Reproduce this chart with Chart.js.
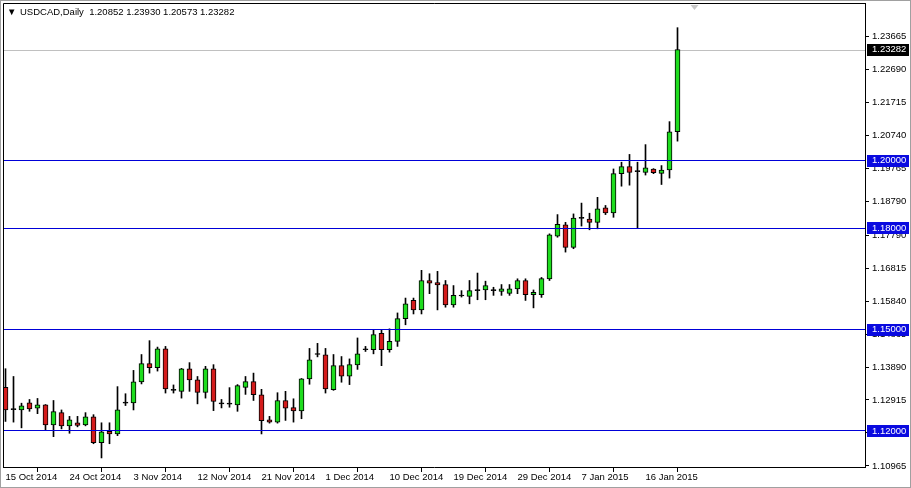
<!DOCTYPE html>
<html><head><meta charset="utf-8">
<script src="https://cdn.jsdelivr.net/npm/chart.js@4.4.0/dist/chart.umd.min.js"></script>
<style>html,body{margin:0;padding:0;background:#fff;overflow:hidden}canvas{display:block}</style>
</head><body>
<canvas id="c" width="911" height="488"></canvas>
<script>
// ---------------- data ----------------
const symbol = 'USDCAD';
const timeframe = 'Daily';
const dates = [
 '15 Oct 2014','16 Oct 2014','17 Oct 2014','19 Oct 2014','20 Oct 2014','21 Oct 2014','22 Oct 2014','23 Oct 2014','24 Oct 2014','26 Oct 2014',
 '27 Oct 2014','28 Oct 2014','29 Oct 2014','30 Oct 2014','31 Oct 2014','2 Nov 2014','3 Nov 2014','4 Nov 2014','5 Nov 2014','6 Nov 2014',
 '7 Nov 2014','9 Nov 2014','10 Nov 2014','11 Nov 2014','12 Nov 2014','13 Nov 2014','14 Nov 2014','16 Nov 2014','17 Nov 2014','18 Nov 2014',
 '19 Nov 2014','20 Nov 2014','21 Nov 2014','23 Nov 2014','24 Nov 2014','25 Nov 2014','26 Nov 2014','27 Nov 2014','28 Nov 2014','30 Nov 2014',
 '1 Dec 2014','2 Dec 2014','3 Dec 2014','4 Dec 2014','5 Dec 2014','7 Dec 2014','8 Dec 2014','9 Dec 2014','10 Dec 2014','11 Dec 2014',
 '12 Dec 2014','14 Dec 2014','15 Dec 2014','16 Dec 2014','17 Dec 2014','18 Dec 2014','19 Dec 2014','21 Dec 2014','22 Dec 2014','23 Dec 2014',
 '24 Dec 2014','25 Dec 2014','26 Dec 2014','28 Dec 2014','29 Dec 2014','30 Dec 2014','31 Dec 2014','1 Jan 2015','2 Jan 2015','4 Jan 2015',
 '5 Jan 2015','6 Jan 2015','7 Jan 2015','8 Jan 2015','9 Jan 2015','11 Jan 2015','12 Jan 2015','13 Jan 2015','14 Jan 2015','15 Jan 2015',
 '16 Jan 2015','18 Jan 2015','19 Jan 2015','20 Jan 2015','21 Jan 2015'
];
const open = [
 1.1329,1.1263,1.1262,1.1283,1.1267,1.1277,1.1218,1.1254,1.1215,1.1224,
 1.1218,1.1242,1.1165,1.1199,1.1191,1.1282,1.1283,1.1345,1.1399,1.1387,
 1.1443,1.1320,1.1317,1.1384,1.1351,1.1314,1.1384,1.1280,1.1279,1.1277,
 1.1329,1.1346,1.1307,1.1233,1.1226,1.1290,1.1269,1.1259,1.1354,1.1426,
 1.1425,1.1322,1.1393,1.1362,1.1395,1.1440,1.1440,1.1489,1.1440,1.1465,
 1.1532,1.1586,1.1558,1.1645,1.1639,1.1633,1.1573,1.1599,1.1598,1.1615,
 1.1617,1.1615,1.1613,1.1607,1.1620,1.1645,1.1603,1.1603,1.1650,1.1776,
 1.1810,1.1743,1.1829,1.1827,1.1817,1.1860,1.1845,1.1961,1.1982,1.1967,
 1.1965,1.1975,1.1962,1.1972,1.20852
];
const high = [
 1.1384,1.1361,1.1282,1.1293,1.1296,1.1278,1.1290,1.1262,1.1243,1.1243,
 1.1254,1.1248,1.1224,1.1224,1.1331,1.1310,1.1379,1.1426,1.1467,1.1448,
 1.1450,1.1336,1.1385,1.1402,1.1361,1.1391,1.1396,1.1293,1.1328,1.1337,
 1.1361,1.1371,1.1323,1.1243,1.1313,1.1317,1.1295,1.1355,1.1444,1.1459,
 1.1444,1.1426,1.1420,1.1413,1.1475,1.1450,1.1499,1.1499,1.1502,1.1549,
 1.1593,1.1593,1.1675,1.1665,1.1672,1.1645,1.1630,1.1615,1.1645,1.1667,
 1.1643,1.1625,1.1633,1.1633,1.1650,1.1650,1.1617,1.1654,1.1783,1.1840,
 1.1817,1.1842,1.1874,1.1844,1.1891,1.1867,1.1975,1.1995,1.2018,1.1995,
 1.2047,1.1976,1.1985,1.2115,1.23930
];
const low = [
 1.1228,1.1226,1.1209,1.1258,1.1251,1.1201,1.1183,1.1206,1.1193,1.1212,
 1.1215,1.1162,1.1120,1.1162,1.1186,1.1275,1.1262,1.1339,1.1371,1.1377,
 1.1312,1.1312,1.1297,1.1317,1.1280,1.1297,1.1260,1.1268,1.1270,1.1258,
 1.1308,1.1290,1.1191,1.1223,1.1223,1.1231,1.1226,1.1236,1.1338,1.1419,
 1.1312,1.1320,1.1344,1.1337,1.1382,1.1435,1.1428,1.1393,1.1433,1.1450,
 1.1514,1.1546,1.1546,1.1606,1.1558,1.1566,1.1566,1.1596,1.1576,1.1588,
 1.1588,1.1601,1.1601,1.1601,1.1606,1.1586,1.1564,1.1595,1.1645,1.1773,
 1.1729,1.1739,1.1806,1.1795,1.1798,1.1840,1.1832,1.1924,1.1927,1.1800,
 1.1957,1.1961,1.1929,1.1948,1.20573
];
const close = [
 1.1262,1.1263,1.1274,1.1265,1.1277,1.1218,1.1257,1.1215,1.1233,1.1216,
 1.1242,1.1165,1.1197,1.1191,1.1262,1.1282,1.1345,1.1399,1.1387,1.1443,
 1.1324,1.1320,1.1384,1.1351,1.1314,1.1384,1.1287,1.1280,1.1279,1.1334,
 1.1346,1.1307,1.1230,1.1226,1.1290,1.1267,1.1259,1.1354,1.1410,1.1426,
 1.1324,1.1393,1.1362,1.1396,1.1428,1.1440,1.1485,1.1440,1.1465,1.1532,
 1.1576,1.1558,1.1645,1.1637,1.1632,1.1573,1.1601,1.1599,1.1615,1.1615,
 1.1630,1.1615,1.1620,1.1620,1.1645,1.1603,1.1610,1.1651,1.1780,1.1811,
 1.1743,1.1830,1.1829,1.1817,1.1857,1.1845,1.1961,1.1982,1.1965,1.1967,
 1.1978,1.1964,1.1972,1.2085,1.23282
];
const levels = [1.20000, 1.18000, 1.15000, 1.12000];
const priceTicks = [1.10965,1.11940,1.12915,1.13890,1.14865,1.15840,1.16815,1.17790,1.18790,1.19765,1.20740,1.21715,1.22690,1.23665];
const dateTicks = ['15 Oct 2014','24 Oct 2014','3 Nov 2014','12 Nov 2014','21 Nov 2014','1 Dec 2014','10 Dec 2014','19 Dec 2014','29 Dec 2014','7 Jan 2015','16 Jan 2015'];

// ---------------- layout / style ----------------
const FONT = 'Liberation Sans';
const FS = 9.5;
const GREEN = '#1EDC1E', RED = '#D41C1C', BLUE = '#0000D8', BOXBLUE = '#0a0ae0', GREY = '#C0C0C0';
const AREA = {left: 3, top: 3, right: 865, bottom: 467};
const BAR_PX = 8, FIRST_CENTER = 5.5;
const xMin = (AREA.left - FIRST_CENTER) / BAR_PX;
const xMax = xMin + (AREA.right - AREA.left) / BAR_PX;
const yMax = 1.24660, yMin = 1.10932;

const idx = dates.map((d, i) => i);
const last = dates.length - 1;
const lastClose = close[last];

const wickData = idx.map(i => ({x: i, y: [low[i], high[i]]}));
const bodyData = idx.map(i => ({x: i, y: [Math.min(open[i], close[i]), Math.max(open[i], close[i])]}));
const bodyColors = idx.map(i => close[i] > open[i] ? GREEN : (close[i] < open[i] ? RED : '#000'));
const xTickIdx = dateTicks.map(d => dates.indexOf(d));

const datasets = [
  {type: 'bar', data: wickData, backgroundColor: '#000', barThickness: 1, grouped: false, order: 5, borderWidth: 0},
  {type: 'bar', data: bodyData, backgroundColor: bodyColors, borderColor: '#000', borderWidth: 1,
   borderSkipped: false, barThickness: 5, minBarLength: 1, grouped: false, order: 4}
];

// horizontal price levels, positioned through the y scale
const levelLines = {
  id: 'levelLines',
  beforeDatasetsDraw(chart) {
    const {ctx, chartArea: a, scales: {y}} = chart;
    ctx.save();
    ctx.lineWidth = 1;
    ctx.strokeStyle = GREY;
    const gy = Math.round(y.getPixelForValue(lastClose)) + 0.5;
    ctx.beginPath(); ctx.moveTo(a.left, gy); ctx.lineTo(a.right, gy); ctx.stroke();
    ctx.restore();
  },
  afterDatasetsDraw(chart) {
    const {ctx, chartArea: a, scales: {y}} = chart;
    ctx.save();
    ctx.lineWidth = 1;
    ctx.strokeStyle = BLUE;
    levels.forEach(l => {
      const py = Math.round(y.getPixelForValue(l) - 0.5) + 0.5;
      ctx.beginPath(); ctx.moveTo(a.left, py); ctx.lineTo(a.right, py); ctx.stroke();
    });
    ctx.restore();
  }
};

const overlay = {
  id: 'overlay',
  afterDraw(chart) {
    const {ctx, chartArea: a, scales: {x, y}} = chart;
    ctx.save();
    // frame
    ctx.strokeStyle = '#000'; ctx.lineWidth = 1;
    ctx.beginPath();
    ctx.moveTo(a.left + 0.5, a.bottom + 1); ctx.lineTo(a.left + 0.5, a.top + 0.5); ctx.lineTo(a.right + 1, a.top + 0.5);
    ctx.stroke();
    // window edge
    ctx.strokeStyle = '#a0a0a0';
    ctx.strokeRect(0.5, 0.5, chart.width - 1, chart.height - 1);
    // shift marker
    const sx = Math.round(x.getPixelForValue(last + 2)) + 0.5;
    ctx.fillStyle = '#c8c8c8';
    ctx.beginPath(); ctx.moveTo(sx - 4, a.top + 2); ctx.lineTo(sx + 4, a.top + 2); ctx.lineTo(sx, a.top + 7); ctx.closePath(); ctx.fill();
    // header
    ctx.fillStyle = '#000';
    ctx.font = `${FS}px "${FONT}"`;
    ctx.textBaseline = 'middle';
    ctx.textAlign = 'left';
    ctx.fillText('\u25BC', 7, 12.5);
    const hdr = `${symbol},${timeframe}  ${open[last].toFixed(5)} ${high[last].toFixed(5)} ${low[last].toFixed(5)} ${close[last].toFixed(5)}`;
    ctx.fillText(hdr, 20, 12.5);
    // price boxes
    const box = (v, bg) => {
      const py = y.getPixelForValue(v);
      ctx.fillStyle = bg;
      ctx.fillRect(a.right + 2, Math.round(py) - 6, 42, 12);
      ctx.fillStyle = '#fff';
      ctx.fillText(v.toFixed(5), a.right + 7, py);
    };
    levels.forEach(l => box(l, BOXBLUE));
    box(lastClose, '#000');
    ctx.restore();
  }
};

new Chart(document.getElementById('c'), {
  type: 'bar',
  data: {datasets},
  options: {
    responsive: false, animation: false, events: [],
    layout: {padding: {left: AREA.left, top: AREA.top, right: 0, bottom: 0}},
    plugins: {legend: {display: false}, tooltip: {enabled: false}, title: {display: false}},
    scales: {
      x: {
        type: 'linear', position: 'bottom', min: xMin, max: xMax, offset: false,
        grid: {display: true, drawOnChartArea: false, drawTicks: true, tickLength: 5, color: '#000', tickColor: '#000'},
        border: {display: true, color: '#000', width: 1},
        afterBuildTicks: s => { s.ticks = xTickIdx.map(v => ({value: v})); },
        afterFit: s => { s.height = 488 - AREA.bottom; s.paddingLeft = 0; s.paddingRight = 0; },
        ticks: {autoSkip: false, maxRotation: 0, minRotation: 0, align: 'start', padding: 0, color: '#000',
          font: {family: FONT, size: FS}, callback: v => dates[v]}
      },
      y: {
        type: 'linear', position: 'right', min: yMin, max: yMax,
        grid: {display: true, drawOnChartArea: false, drawTicks: true, tickLength: 4, color: '#000', tickColor: '#000'},
        border: {display: true, color: '#000', width: 1},
        afterBuildTicks: s => { s.ticks = priceTicks.map(v => ({value: v})); },
        afterFit: s => { s.width = 911 - AREA.right; s.paddingTop = 0; s.paddingBottom = 0; },
        ticks: {autoSkip: false, padding: 3, color: '#000', font: {family: FONT, size: FS}, callback: v => Number(v).toFixed(5)}
      }
    }
  },
  plugins: [levelLines, overlay]
});
</script>
</body></html>
